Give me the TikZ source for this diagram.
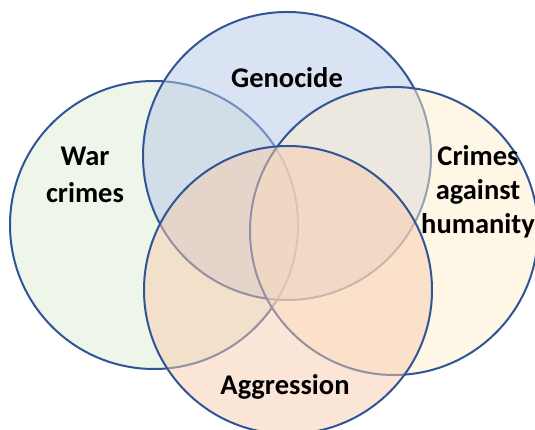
\documentclass[tikz,border=0pt]{standalone}
\usepackage{fontspec}
\setmainfont{Carlito}
\usepackage{xcolor}
\definecolor{edgeblue}{HTML}{2F5597}
\definecolor{warfill}{HTML}{DEEDD6}
\definecolor{genfill}{HTML}{B4C7E7}
\definecolor{humfill}{HTML}{FFEFCC}
\definecolor{aggfill}{HTML}{F8CBAD}
\tikzset{
  crimeset/.style={draw=edgeblue, line width=2pt, fill opacity=0.5},
  crimename/.style={font=\fontsize{28.5}{34}\selectfont\bfseries, align=center, inner sep=0pt, text=black}
}

\begin{document}
\begin{tikzpicture}[x=1pt,y=1pt]
\useasboundingbox (0,0) rectangle (535,430);

%War crimes
\draw [crimeset, fill=warfill] (154,205) circle[radius=144];

%Genocide
\draw [crimeset, fill=genfill] (287,274) circle[radius=144];

%Crimes against humanity
\draw [crimeset, fill=humfill] (394,199) circle[radius=144];

%Aggression
\draw [crimeset, fill=aggfill] (288,140) circle[radius=144];

%labels
\node [crimename] (war) at (85,255) {War\\[3pt]crimes};
\node [crimename, anchor=base] (gen) at (287,342) {Genocide};
\node [crimename] (hum) at (478,238) {Crimes\\against\\humanity};
\node [crimename, anchor=base] (agg) at (285,35) {Aggression};
\end{tikzpicture}
\end{document}
